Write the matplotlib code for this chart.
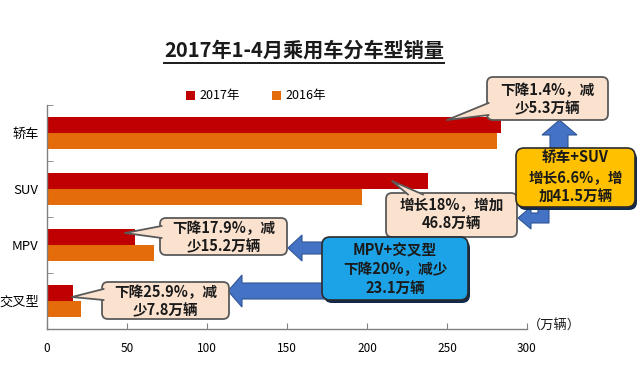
import matplotlib
matplotlib.use("Agg")
import matplotlib.pyplot as plt
import numpy as np
from matplotlib.patches import FancyBboxPatch, Polygon
from matplotlib.lines import Line2D
from matplotlib.transforms import Affine2D

# data (unit: 万辆)
categories = ["轿车", "SUV", "MPV", "交叉型"]
sales_2017 = [284, 238, 55, 16.5]
sales_2016 = [281, 197, 67, 21.5]
x_ticks = [0, 50, 100, 150, 200, 250, 300]
series_names = ["2017年", "2016年"]
title = "2017年1-4月乘用车分车型销量"
unit = "（万辆）"

note_sedan = ["下降1.4%，减", "少5.3万辆"]
note_suv = ["增长18%，增加", "46.8万辆"]
note_mpv = ["下降17.9%，减", "少15.2万辆"]
note_cross = ["下降25.9%，减", "少7.8万辆"]
note_up = ["轿车+SUV", "增长6.6%，增", "加41.5万辆"]
note_down = ["MPV+交叉型", "下降20%，减少", "23.1万辆"]

RED = "#C00000"
ORANGE = "#E46C0A"
PEACH = "#FBE2CF"
GOLD = "#FFC000"
SKY = "#1CA2E6"
ARROW = "#4472C4"

plt.rcParams["font.family"] = ["Noto Sans CJK SC", "DejaVu Sans"]

W, H = 640, 375
fig = plt.figure(figsize=(W / 100, H / 100), dpi=100)
ax = fig.add_axes([47 / W, 46 / H, 480 / W, 224 / H])

y = np.arange(len(categories))
bh = 0.286
ax.barh(y - bh / 2, sales_2017, height=bh, color=RED, label=series_names[0])
ax.barh(y + bh / 2, sales_2016, height=bh, color=ORANGE, label=series_names[1])
ax.set_xlim(0, 300)
ax.set_ylim(len(categories) - 0.5, -0.5)

for s in ["top", "right"]:
    ax.spines[s].set_visible(False)
for s in ["left", "bottom"]:
    ax.spines[s].set_color("#808080")
    ax.spines[s].set_linewidth(1.0)

ax.set_xticks(x_ticks)
ax.tick_params(axis="x", direction="in", length=4, color="#808080",
               labelsize=8.5, pad=9)
ax.set_yticks(y)
ax.set_yticklabels(categories)
ax.tick_params(axis="y", which="major", length=0, labelsize=9.5, pad=6)
ax.set_yticks(np.arange(len(categories) + 1) - 0.5, minor=True)
ax.tick_params(axis="y", which="minor", direction="in", length=4, color="#808080")

fig.legend(loc="center", bbox_to_anchor=(256 / W, 1 - 96 / H), ncol=2,
           frameon=False, fontsize=9, handlelength=0.7, handleheight=0.7,
           handletextpad=0.35, columnspacing=2.6)

# pixel coordinates measured from the top-left corner
PX = Affine2D().scale(1 / W, -1 / H).translate(0, 1) + fig.transFigure


def fx(x):
    return x / W


def fy(yy):
    return 1 - yy / H


t = fig.text(fx(304), fy(50), title, ha="center", va="center",
             fontsize=14.5, fontweight="bold", color="#1a1a1a")
fig.canvas.draw()
bb = t.get_window_extent()
fig.add_artist(Line2D([bb.x0 / W, bb.x1 / W], [(bb.y0 - 2) / H] * 2,
                      transform=fig.transFigure, color="#1a1a1a", lw=1.4))

fig.text(fx(528), fy(326), unit, ha="left", va="center", fontsize=9.5,
         color="#1a1a1a")


def lines_text(cx, ys, lines, size=10.5, color="#1a1a1a"):
    for yy, s in zip(ys, lines):
        fig.text(fx(cx), fy(yy), s, ha="center", va="center", fontsize=size,
                 fontweight="bold", color=color, zorder=8)


def bubble(x0, y0, x1, y1, base, tip, lines, ys):
    box = FancyBboxPatch((x0, y0), x1 - x0, y1 - y0,
                         boxstyle="round,pad=0,rounding_size=6",
                         transform=PX, fc=PEACH, ec="#5a5a5a", lw=1.3, zorder=5)
    fig.add_artist(box)
    (bx0, by0), (bx1, by1) = base
    fig.add_artist(Polygon([(bx0, by0), tip, (bx1, by1)], closed=True,
                           transform=PX, fc=PEACH, ec="none", zorder=6))
    fig.add_artist(Line2D([bx0, tip[0], bx1], [by0, tip[1], by1],
                          transform=PX, color="#5a5a5a", lw=1.3, zorder=6))
    lines_text((x0 + x1) / 2, ys, lines)


def shadow_box(x0, y0, x1, y1, fc, lines, ys):
    fig.add_artist(FancyBboxPatch((x0 + 2, y0 + 3), x1 - x0, y1 - y0,
                                  boxstyle="round,pad=0,rounding_size=8",
                                  transform=PX, fc="#14284a", ec="none",
                                  zorder=4))
    fig.add_artist(FancyBboxPatch((x0, y0), x1 - x0, y1 - y0,
                                  boxstyle="round,pad=0,rounding_size=8",
                                  transform=PX, fc=fc, ec="#2b2b2b", lw=1.2,
                                  zorder=5))
    lines_text((x0 + x1) / 2, ys, lines)


def arrow(points):
    fig.add_artist(Polygon(points, closed=True, transform=PX, fc=ARROW,
                           ec="#2F5597", lw=0.8, zorder=3))


# blue arrows
arrow([(550, 152), (550, 135), (542, 135), (559.5, 120), (577, 135),
       (568, 135), (568, 152)])
arrow([(518, 218), (531, 207), (531, 213), (538, 213), (538, 200),
       (549, 200), (549, 223), (531, 223), (531, 229)])
arrow([(288, 248), (302, 235), (302, 242), (330, 242), (330, 254),
       (302, 254), (302, 261)])
arrow([(228, 291), (242, 275), (242, 283), (330, 283), (330, 299),
       (242, 299), (242, 307)])

# callouts
bubble(487, 77, 608, 120, [(488.5, 103), (488.5, 115)], (447, 120),
       note_sedan, [90, 108])
bubble(386, 193, 517, 237, [(408, 194.5), (423, 194.5)], (392, 181),
       note_suv, [205, 223])
bubble(160, 218, 287, 255, [(161.5, 226), (161.5, 238)], (125, 233),
       note_mpv, [228, 246])
bubble(102, 282, 229, 319, [(103.5, 289), (103.5, 300)], (72, 297),
       note_cross, [292, 310])

shadow_box(516, 148, 635, 207, GOLD, note_up, [158, 178, 197])
shadow_box(322, 237, 468, 300, SKY, note_down, [250, 269, 288])

fig.savefig("out.png", dpi=100)
